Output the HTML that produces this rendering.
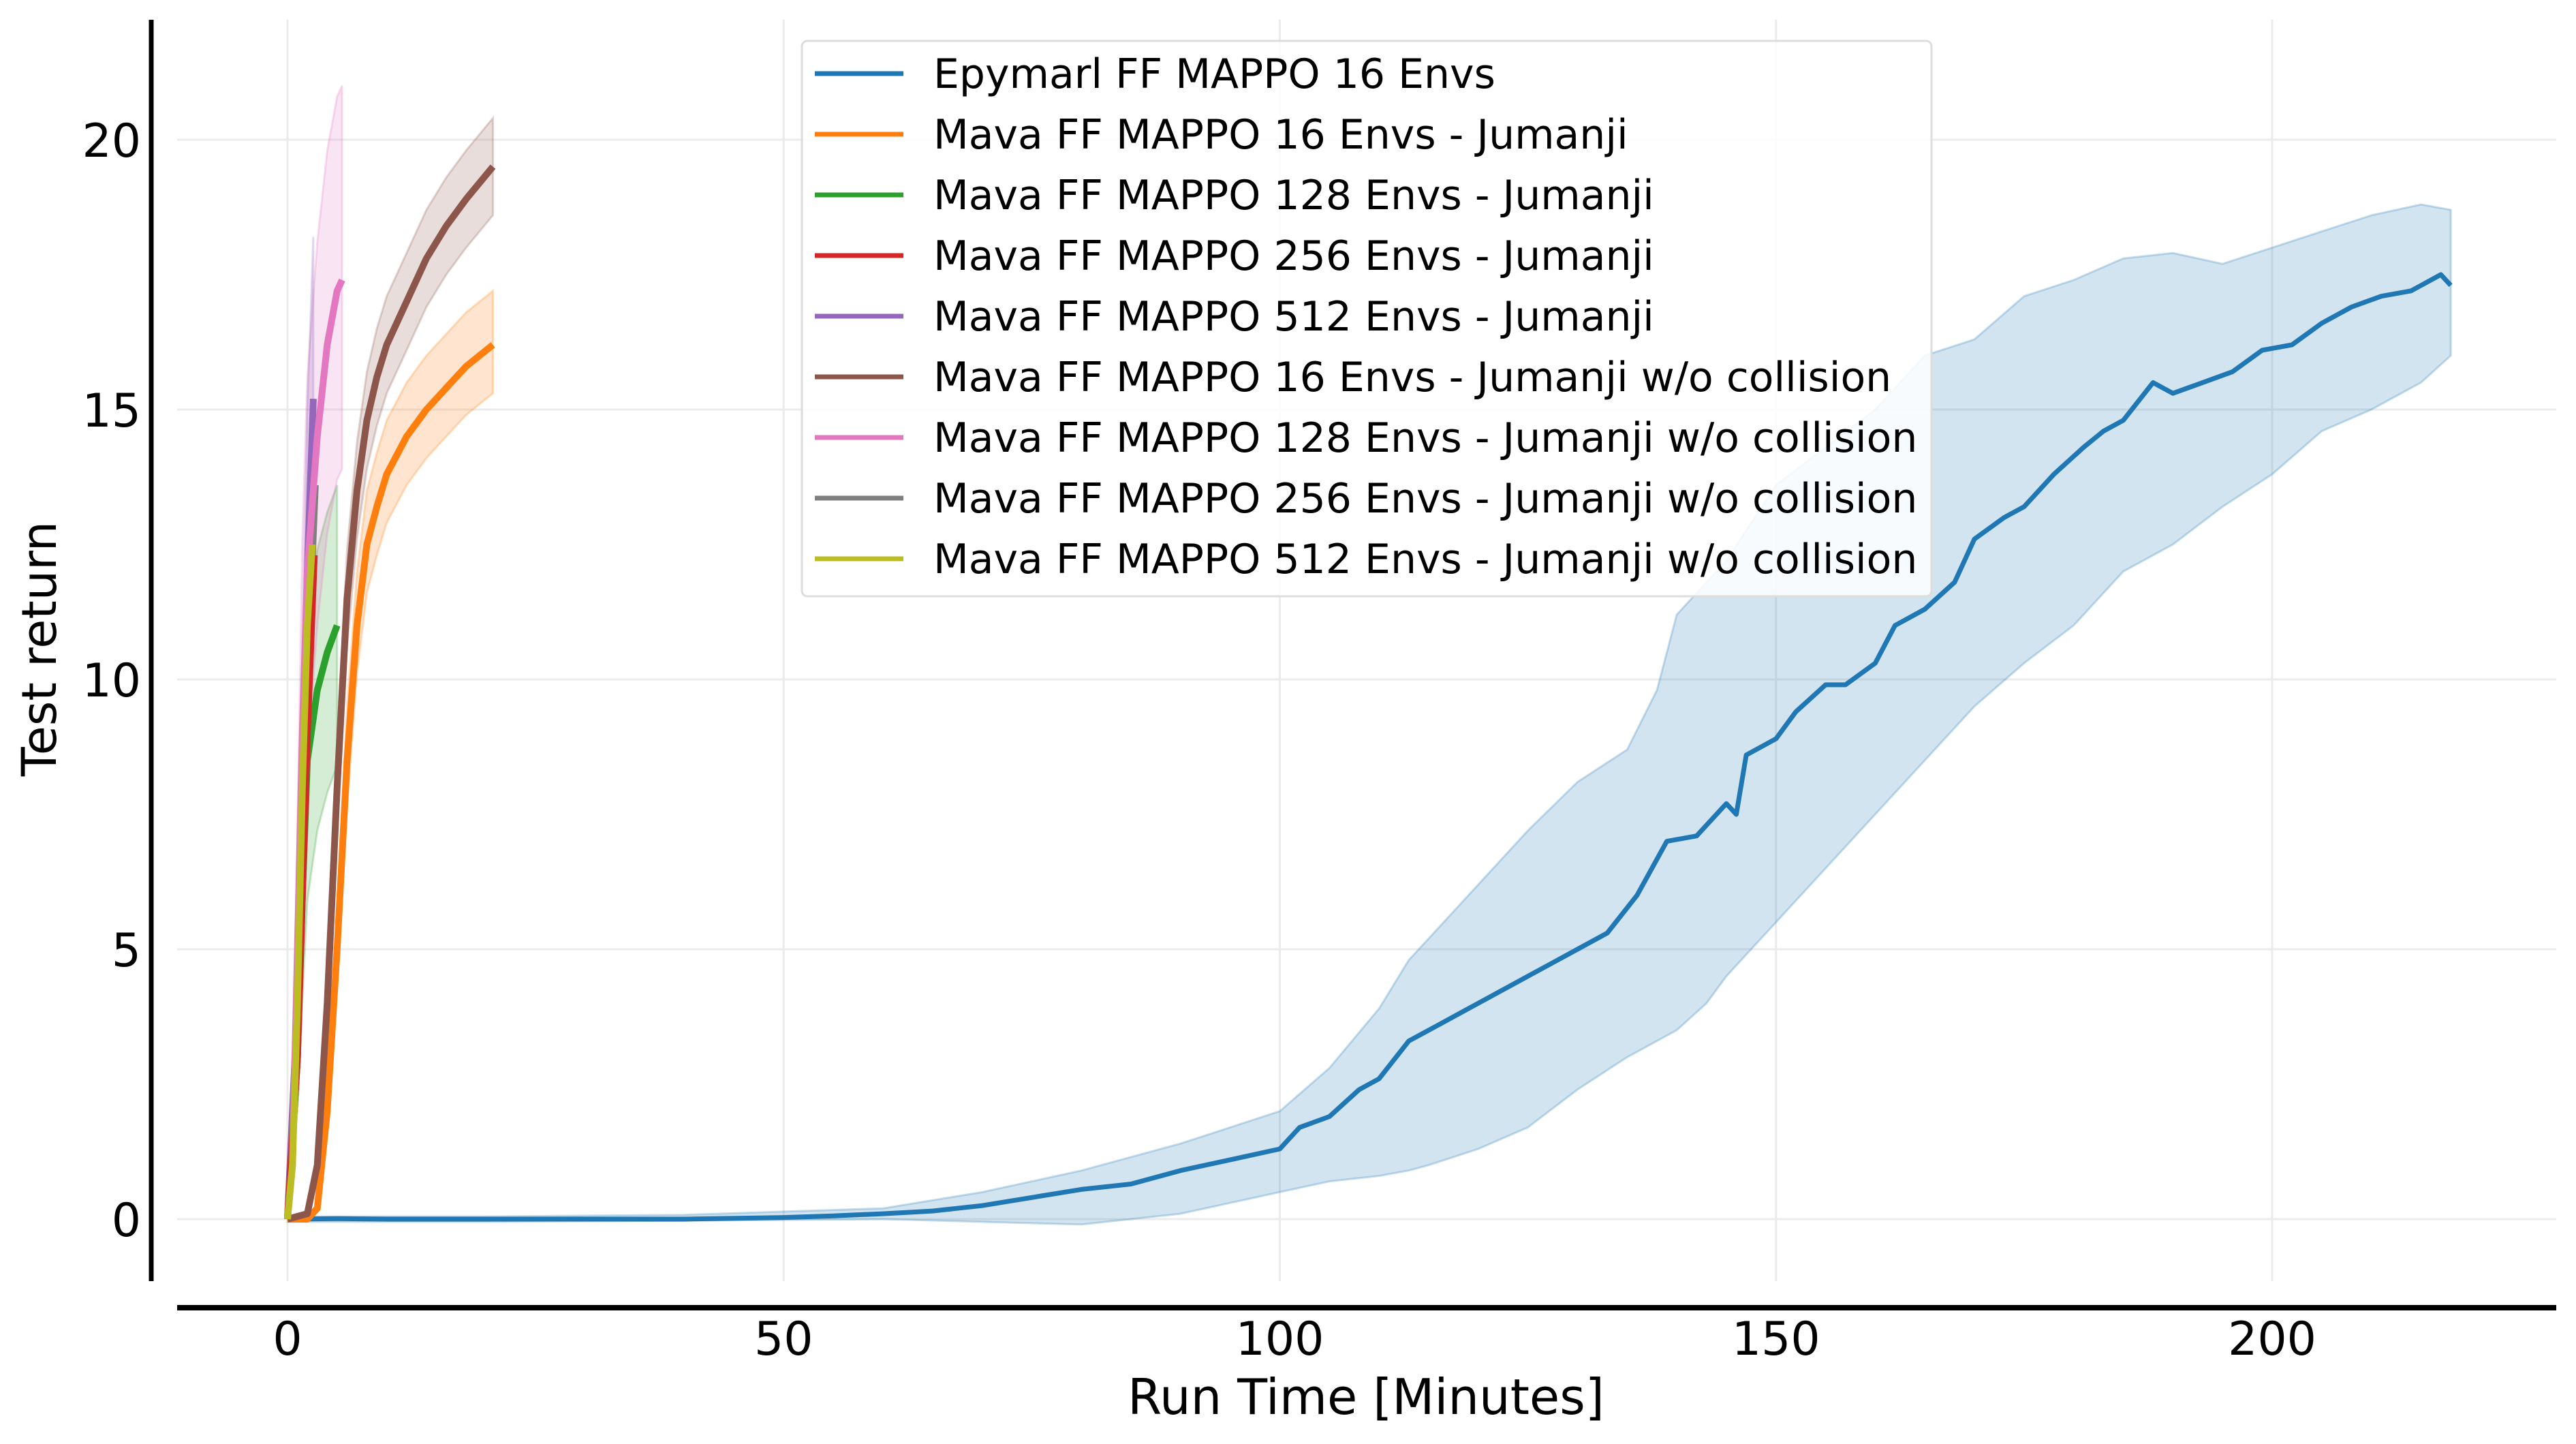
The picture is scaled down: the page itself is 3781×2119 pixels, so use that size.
<!DOCTYPE html>
<html><head><meta charset="utf-8">
<style>
html,body{margin:0;padding:0;background:#fff;}
svg{display:block;font-family:"DejaVu Sans","Liberation Sans",sans-serif;}
</style></head>
<body>
<svg id="chart" width="3781" height="2119" viewBox="0 0 3781 2119" xmlns="http://www.w3.org/2000/svg">
<g id="grid"></g>
<g id="bands"></g>
<g id="lines"></g>
<line x1="222" y1="29" x2="222" y2="1880" stroke="#000" stroke-width="7"/>
<line x1="260" y1="1919" x2="3752" y2="1919" stroke="#000" stroke-width="8"/>
<g id="ticks"></g>
<text x="2005" y="2075" font-size="72" text-anchor="middle">Run Time [Minutes]</text>
<text x="0" y="0" font-size="70" text-anchor="middle" transform="translate(82,952) rotate(-90)">Test return</text>
<g id="legend"></g>
</svg>
<script>
const xTicks = [0, 50, 100, 150, 200];
const yTicks = [0, 5, 10, 15, 20];

const blueX = [0,5,10,20,30,40,50,55,60,65,70,75,80,85,90,95,100,102,105,108,110,113,116,120,125,130,133,136,139,142,145,146,147,150,152,155,157,160,162,165,168,170,173,175,178,181,183,185,188,190,193,196,199,202,205,208,211,214,217,218];
const blueY = [0,0.01,0,0,0,0,0.03,0.06,0.1,0.15,0.25,0.4,0.55,0.65,0.9,1.1,1.3,1.7,1.9,2.4,2.6,3.3,3.6,4.0,4.5,5.0,5.3,6.0,7.0,7.1,7.7,7.5,8.6,8.9,9.4,9.9,9.9,10.3,11.0,11.3,11.8,12.6,13.0,13.2,13.8,14.3,14.6,14.8,15.5,15.3,15.5,15.7,16.1,16.2,16.6,16.9,17.1,17.2,17.5,17.3];
const blueBandX = [0,20,40,60,70,80,90,100,105,110,113,115,120,125,130,135,138,140,143,145,150,155,160,165,170,175,180,185,190,195,200,205,210,215,218];
const blueUpper = [0.05,0.05,0.08,0.2,0.5,0.9,1.4,2.0,2.8,3.9,4.8,5.2,6.2,7.2,8.1,8.7,9.8,11.2,11.8,12.2,13.6,14.3,15.0,16.0,16.3,17.1,17.4,17.8,17.9,17.7,18.0,18.3,18.6,18.8,18.7];
const blueLower = [-0.05,-0.05,-0.03,0,-0.05,-0.1,0.1,0.5,0.7,0.8,0.9,1.0,1.3,1.7,2.4,3.0,3.3,3.5,4.0,4.5,5.5,6.5,7.5,8.5,9.5,10.3,11.0,12.0,12.5,13.2,13.8,14.6,15.0,15.5,16.0];

const orangeX = [0,2,3,4,5,6,7,8,9,10,12,14,16,18,20.7];
const orangeY = [0,0,0.2,2,5,8.5,11,12.5,13.2,13.8,14.5,15,15.4,15.8,16.2];
const brownX = [0,2,3,4,5,6,7,8,9,10,12,14,16,18,20.7];
const brownY = [0,0.1,1,4,8,11.5,13.5,14.8,15.6,16.2,17,17.8,18.4,18.9,19.5];
const pinkX = [0,0.5,1,1.5,2,3,4,5,5.5];
const pinkY = [0,1,5,9,12,14.5,16.2,17.2,17.4];
const greenX = [0,1,1.5,2,3,4,5];
const greenY = [0,3,6,8.5,9.8,10.5,11];
const yellowX = [0,0.5,1,1.5,2,2.5];
const yellowY = [0,1,4,8,11,12.5];
const redX = [0,1,2,2.7];
const redY = [0,3,9,12.3];
const grayX = [0,1,2,2.8];
const grayY = [0,3,10,13.6];
const purpleX = [0,1,2,2.6];
const purpleY = [0,4,12,15.2];

const legendLabels = ["Epymarl FF MAPPO 16 Envs","Mava FF MAPPO 16 Envs - Jumanji","Mava FF MAPPO 128 Envs - Jumanji","Mava FF MAPPO 256 Envs - Jumanji","Mava FF MAPPO 512 Envs - Jumanji","Mava FF MAPPO 16 Envs - Jumanji w/o collision","Mava FF MAPPO 128 Envs - Jumanji w/o collision","Mava FF MAPPO 256 Envs - Jumanji w/o collision","Mava FF MAPPO 512 Envs - Jumanji w/o collision"];
const colors = ["#1f77b4","#ff7f0e","#2ca02c","#d62728","#9467bd","#8c564b","#e377c2","#7f7f7f","#bcbd22"];

const NS = "http://www.w3.org/2000/svg";
const X = v => 422 + v * 14.565;
const Y = v => 1789 - v * 79.2;
function mk(tag, attrs, parent){const e=document.createElementNS(NS,tag);for(const k in attrs)e.setAttribute(k,attrs[k]);parent.appendChild(e);return e;}
function linePath(xs, ys){return xs.map((x,i)=>(i?'L':'M')+X(x).toFixed(1)+','+Y(ys[i]).toFixed(1)).join('');}
function bandPath(xs, up, lo){let d=xs.map((x,i)=>(i?'L':'M')+X(x).toFixed(1)+','+Y(up[i]).toFixed(1)).join('');for(let i=xs.length-1;i>=0;i--)d+='L'+X(xs[i]).toFixed(1)+','+Y(lo[i]).toFixed(1);return d+'Z';}

const grid=document.getElementById('grid'), ticks=document.getElementById('ticks');
xTicks.forEach(t=>{
  const g=mk('line',{x1:X(t),x2:X(t),y1:29,y2:1880,stroke:'#ebebeb','stroke-width':3},grid);
  
  
  const tx=mk('text',{x:X(t),y:1988,'font-size':68,'text-anchor':'middle'},ticks);
  tx.textContent=t;
  
  
});
yTicks.forEach(t=>{
  const g=mk('line',{x1:260,x2:3752,y1:Y(t),y2:Y(t),stroke:'#ebebeb','stroke-width':3},grid);
  
  
  const tx=mk('text',{x:207,y:Y(t)+25,'font-size':68,'text-anchor':'end'},ticks);
  tx.textContent=t;
  
  
});

const bands=document.getElementById('bands'), lines=document.getElementById('lines');
function band(xs,up,lo,c,name){const p=mk('path',{d:bandPath(xs,up,lo),fill:c,'fill-opacity':0.2,stroke:c,'stroke-opacity':0.25,'stroke-width':3},bands);
  
  }
function off(ys,d){return ys.map((v,i)=>Math.max(0,v+d*Math.min(1,v/8)));}
band(blueBandX,blueUpper,blueLower,colors[0],'band-epymarl-16');
band(orangeX,off(orangeY,1.0),off(orangeY,-0.9),colors[1],'band-mava-16');
band(brownX,off(brownY,0.9),off(brownY,-0.9),colors[5],'band-mava-16-nocol');
band(greenX,off(greenY,2.6),off(greenY,-2.6),colors[2],'band-mava-128');
band(pinkX,off(pinkY,3.6),off(pinkY,-3.5),colors[6],'band-mava-128-nocol');
band(grayX,off(grayY,1.5),off(grayY,-1.5),colors[7],'band-mava-256-nocol');
band(purpleX,off(purpleY,3),off(purpleY,-3),colors[4],'band-mava-512');

function line(xs,ys,c,w,name){const p=mk('path',{d:linePath(xs,ys),fill:'none',stroke:c,'stroke-width':w,'stroke-linejoin':'round'},lines);
  
  }
line(blueX,blueY,colors[0],7,'line-epymarl-16');
line(orangeX,orangeY,colors[1],10,'line-mava-16');
line(brownX,brownY,colors[5],10,'line-mava-16-nocol');
line(greenX,greenY,colors[2],10,'line-mava-128');
line(purpleX,purpleY,colors[4],10,'line-mava-512');
line(grayX,grayY,colors[7],10,'line-mava-256-nocol');
line(redX,redY,colors[3],10,'line-mava-256');
line(pinkX,pinkY,colors[6],10,'line-mava-128-nocol');
line(yellowX,yellowY,colors[8],10,'line-mava-512-nocol');

const lg=document.getElementById('legend');
const box=mk('rect',{x:1177,y:60,width:1658,height:815,rx:8,fill:'#fff','fill-opacity':0.85,stroke:'#dddddd','stroke-width':3},lg);


legendLabels.forEach((lab,i)=>{
  const y=108+i*89;
  const l=mk('line',{x1:1196,x2:1326,y1:y,y2:y,stroke:colors[i],'stroke-width':7},lg);
  
  
  const t=mk('text',{x:1370,y:y+21,'font-size':60},lg);
  t.textContent=lab;
  
  
});
</script>
</body></html>
